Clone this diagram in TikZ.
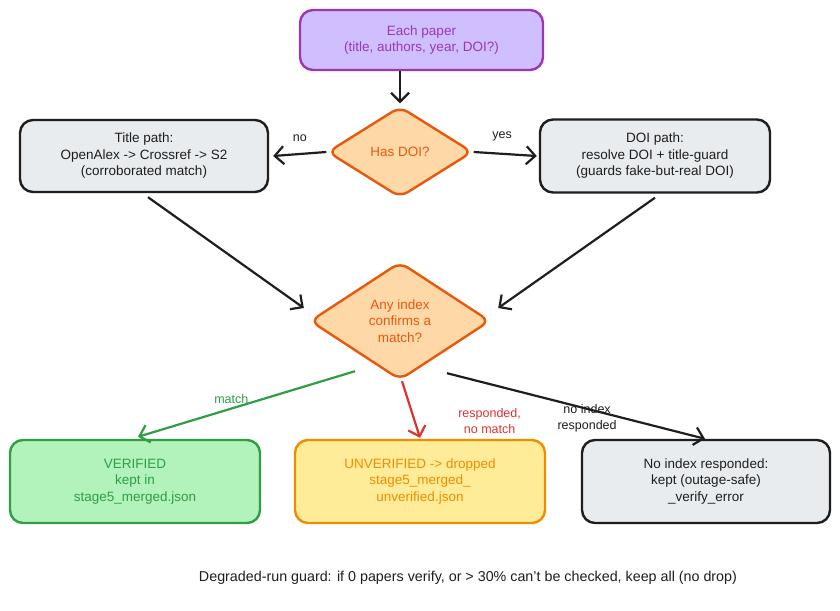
\documentclass[tikz,border=0pt]{standalone}
\usepackage{fontspec}
\setmainfont{Liberation Sans}
\usetikzlibrary{arrows.meta,shapes.geometric,calc}
\definecolor{purpleF}{HTML}{D0BFFF}
\definecolor{purpleD}{HTML}{9C36B5}
\definecolor{orangeF}{HTML}{FFD8A8}
\definecolor{orangeD}{HTML}{E8590C}
\definecolor{grayF}{HTML}{E9ECEF}
\definecolor{inkD}{HTML}{1E1E1E}
\definecolor{greenF}{HTML}{B2F2BB}
\definecolor{greenD}{HTML}{2F9E44}
\definecolor{yellowF}{HTML}{FFEC99}
\definecolor{yellowD}{HTML}{F08C00}
\definecolor{redD}{HTML}{E03131}
\begin{document}
\begin{tikzpicture}[x=1pt,y=-1pt,
  font=\fontsize{13.5}{16.5}\selectfont,
  box/.style={draw, line width=2.4pt, rounded corners=13pt, align=center, inner sep=2pt},
  dia/.style={diamond, draw, line width=2.4pt, rounded corners=9pt, align=center, inner sep=0pt,
              fill=orangeF, draw=orangeD, text=orangeD},
  arr/.style={draw=inkD, line width=2.2pt, -{Straight Barb[length=9pt,width=18pt]}},
  lbl/.style={font=\fontsize{12.5}{16}\selectfont, align=center, inner sep=1pt}]

\useasboundingbox (0,0) rectangle (840,610);
\fill[white] (0,0) rectangle (840,610);

\node[box, fill=purpleF, draw=purpleD, text=purpleD, minimum width=243pt, minimum height=60pt]
  (paper) at (421.5,40) {Each paper\\(title, authors, year, DOI?)};

\node[dia, minimum width=145pt, minimum height=91pt] (hasdoi) at (400,152) {Has DOI?};

\node[box, fill=grayF, draw=inkD, text=inkD, minimum width=248pt, minimum height=72pt]
  (title) at (144,156) {Title path:\\OpenAlex -> Crossref -> S2\\(corroborated match)};

\node[box, fill=grayF, draw=inkD, text=inkD, minimum width=230pt, minimum height=73pt]
  (doi) at (655,156) {DOI path:\\resolve DOI + title-guard\\(guards fake-but-real DOI)};

\node[dia, minimum width=180pt, minimum height=118pt] (any) at (400,321) {Any index\\confirms a\\match?};

\node[box, fill=greenF, draw=greenD, text=greenD, minimum width=250pt, minimum height=83pt]
  (ver) at (135,481.5) {VERIFIED\\kept in\\stage5\_merged.json};

\node[box, fill=yellowF, draw=yellowD, text=yellowD, minimum width=250pt, minimum height=83pt]
  (unv) at (420,481.5) {UNVERIFIED -> dropped\\stage5\_merged\_\\unverified.json};

\node[box, fill=grayF, draw=inkD, text=inkD, minimum width=248pt, minimum height=83pt]
  (noidx) at (706,481.5) {No index responded:\\kept (outage-safe)\\\_verify\_error};

\node[text=inkD, font=\fontsize{14.3}{17}\selectfont] (guard) at (468,578) {Degraded-run guard: if 0 papers verify, or > 30\% can't be checked, keep all (no drop)};

% connectors
\draw[arr] ([xshift=-21.5pt]paper.south) -- ([yshift=2pt]hasdoi.north);
\draw[arr] (hasdoi.west) -- ([xshift=4pt]title.east)
  node[lbl, pos=0.5, yshift=16pt, text=inkD] (lno) {no};
\draw[arr] (hasdoi.east) -- ([xshift=-2pt]doi.west)
  node[lbl, pos=0.45, yshift=17pt, text=inkD] (lyes) {yes};
\draw[arr] ([xshift=4pt,yshift=-4pt]title.south) -- ([xshift=-5pt,yshift=13pt]any.west);
\draw[arr] ([yshift=-4pt]doi.south) -- ([xshift=7pt,yshift=13pt]any.east);
\draw[arr, draw=greenD] ([xshift=-45pt,yshift=10pt]any.south) -- ([xshift=3pt,yshift=2pt]ver.north)
  node[lbl, pos=0.57, yshift=10pt, text=greenD] (lmatch) {match};
\draw[arr, draw=redD] ([xshift=2pt]any.south) -- ([yshift=1pt]unv.north)
  node[lbl, pos=0.7, xshift=75pt, yshift=0pt, text=redD] (lnomatch) {responded,\\no match};
\draw[arr] ([xshift=47pt,yshift=8pt]any.south) -- ([xshift=-1pt]noidx.north)
  node[lbl, pos=0.543, yshift=-9pt, text=inkD] (lnoidx) {no index\\responded};
\end{tikzpicture}
\end{document}
